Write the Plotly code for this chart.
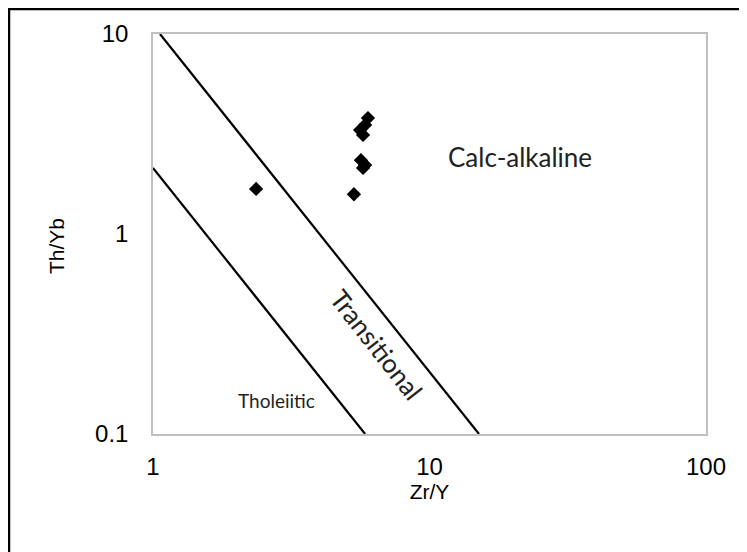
import plotly.graph_objects as go

# Sample data (Zr/Y vs Th/Yb)
zr_y = [2.36, 5.33, 5.99, 5.85, 5.61, 5.75, 5.65, 5.85, 5.75]
th_yb = [1.68, 1.58, 3.80, 3.51, 3.31, 3.13, 2.34, 2.21, 2.14]

# Boundary lines
upper_x = [1.06, 15.1]
upper_y = [10, 0.1]
lower_x = [1.0, 5.85]
lower_y = [2.14, 0.1]

tick_vals_x = [1, 10, 100]
tick_text_x = ["1", "10", "100"]
tick_vals_y = [0.1, 1, 10]
tick_text_y = ["0.1", "1", "10"]

fig = go.Figure()
fig.add_trace(go.Scatter(x=upper_x, y=upper_y, mode="lines",
                         line=dict(color="black", width=2.2), showlegend=False, hoverinfo="skip"))
fig.add_trace(go.Scatter(x=lower_x, y=lower_y, mode="lines",
                         line=dict(color="black", width=2.2), showlegend=False, hoverinfo="skip"))
fig.add_trace(go.Scatter(x=zr_y, y=th_yb, mode="markers",
                         marker=dict(symbol="diamond", size=11, color="black"),
                         showlegend=False))

fig.add_annotation(x=1.327, y=0.385, xref="x", yref="y", xanchor="center", yanchor="middle",
                   text="Calc-alkaline", showarrow=False,
                   font=dict(family="Lato", size=26, color="#222222"))
fig.add_annotation(x=0.81, y=-0.555, xref="x", yref="y", xanchor="center", yanchor="middle",
                   text="Transitional", showarrow=False, textangle=52,
                   font=dict(family="Lato", size=26, color="#222222"))
fig.add_annotation(x=0.445, y=-0.83, xref="x", yref="y", xanchor="center", yanchor="middle",
                   text="Tholeiitic", showarrow=False,
                   font=dict(family="Lato", size=19, color="#222222"))

# y-axis title placed as rotated text
fig.add_annotation(x=(48 - 145) / 553, y=(426 - 238) / 400, xref="paper", yref="paper",
                   xanchor="center", yanchor="middle", text="Th/Yb", showarrow=False,
                   textangle=-90, font=dict(family="Liberation Sans", size=21, color="black"))

# outer border
fig.add_shape(type="rect", xref="paper", yref="paper",
              x0=(1 - 145) / 553, x1=(770 - 145) / 553,
              y0=(426 - 570) / 400, y1=(426 - 1) / 400,
              line=dict(color="black", width=2.5), fillcolor="rgba(0,0,0,0)", layer="below")

axis_font = dict(family="Liberation Sans", size=24, color="black")
title_font = dict(family="Liberation Sans", size=21, color="black")
fig.update_xaxes(type="log", range=[0, 2], tickvals=tick_vals_x, ticktext=tick_text_x,
                 showgrid=False, zeroline=False, showline=True, mirror=True,
                 linecolor="#c0c0c0", linewidth=1.5, ticks="", ticklabelstandoff=10,
                 tickfont=axis_font,
                 title=dict(text="Zr/Y", font=title_font, standoff=2))
fig.update_yaxes(type="log", range=[-1, 1], tickvals=tick_vals_y, ticktext=tick_text_y,
                 showgrid=False, zeroline=False, showline=True, mirror=True,
                 linecolor="#c0c0c0", linewidth=1.5, ticks="", ticklabelstandoff=18,
                 tickfont=axis_font)

fig.update_layout(width=739, height=544, margin=dict(l=145, r=41, t=26, b=118),
                  plot_bgcolor="white", paper_bgcolor="white")

fig.write_html("out.html")
